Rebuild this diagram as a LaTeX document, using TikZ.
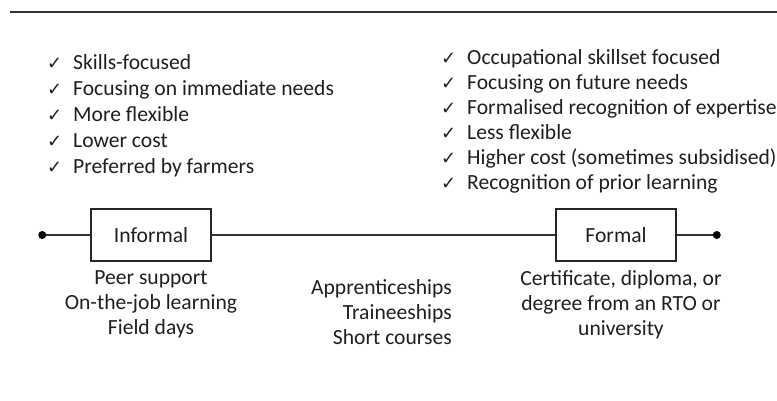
\documentclass[tikz,border=0pt]{standalone}
\usepackage{fontspec}
\setmainfont{Carlito}
\newfontfamily\symbfont{DejaVu Sans}
\usetikzlibrary{positioning}

% check mark in front of each point
\newcommand{\tick}{\makebox[26pt][l]{\symbfont\fontsize{18}{18}\selectfont ✓}}

\begin{document}
\begin{tikzpicture}[
 x=1pt,y=-1pt,
 font=\fontsize{21.6}{25}\selectfont,
 text=black!88,
 stage/.style={draw=black!85,line width=1.1pt,fill=white,minimum width=120pt,minimum height=52pt},
 pts/.style={align=left,anchor=west,inner sep=0pt},
 ways/.style={align=center,inner sep=0pt},
 dot/.style={circle,fill=black,inner sep=0pt,minimum size=8pt},
 rule/.style={line width=1.4pt,draw=black!80}
]
\useasboundingbox (0,0) rectangle (777,401);
\draw[rule] (10,12) -- (777,12);

% the two ends of the scale
\node[stage] (inf) at (151,235) {Informal};
\node[stage] (form) at (616,235) {Formal};
\node[dot,left=44pt of inf] (lend) {};
\node[dot,right=36pt of form] (rend) {};
\draw[rule] (lend) -- (inf) -- (form) -- (rend);

% what goes with each end
\node[pts,font=\fontsize{21.6}{26}\selectfont] (infpros) at (47,116) {\tick Skills-focused\\
 \tick Focusing on immediate needs\\
 \tick More flexible\\
 \tick Lower cost\\
 \tick Preferred by farmers};
\node[pts] (formpros) at (441,121) {\tick Occupational skillset focused\\
 \tick Focusing on future needs\\
 \tick Formalised recognition of expertise\\
 \tick Less flexible\\
 \tick Higher cost (sometimes subsidised)\\
 \tick Recognition of prior learning};

\node[ways,below=9pt of inf] (infways) {Peer support\\On-the-job learning\\Field days};
\node[ways,align=right,anchor=east] (midways) at (452,312) {Apprenticeships\\Traineeships\\Short courses};
\node[ways,below=9pt of form,xshift=5pt] (formways) {Certificate, diploma, or\\degree from an RTO or\\university};
\end{tikzpicture}
\end{document}
